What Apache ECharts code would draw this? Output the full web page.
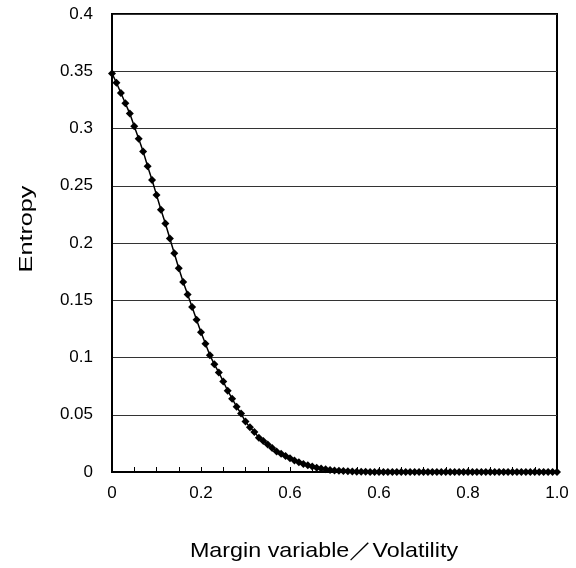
<!DOCTYPE html>
<html>
<head>
<meta charset="utf-8">
<script src="https://cdn.jsdelivr.net/npm/echarts@6/dist/echarts.min.js"></script>
<style>
  html, body { margin: 0; padding: 0; background: #fff; }
  #chart { width: 576px; height: 568px; }
</style>
</head>
<body>
<div id="chart"></div>
<script>
// Entropy sampled at margin/volatility steps of 0.01 from 0 to 1.0
const entropy = [
  0.348, 0.340, 0.331, 0.322, 0.313, 0.302, 0.291, 0.280, 0.267, 0.255,
  0.242, 0.229, 0.217, 0.204, 0.191, 0.178, 0.166, 0.155, 0.144, 0.133,
  0.122, 0.112, 0.102, 0.094, 0.087, 0.079, 0.071, 0.064, 0.057, 0.051,
  0.044, 0.039, 0.035, 0.030, 0.027, 0.024, 0.021, 0.018, 0.016, 0.014,
  0.012, 0.010, 0.0085, 0.007, 0.0058, 0.0047, 0.0038, 0.003, 0.0024, 0.0018,
  0.0014, 0.001, 0.0008, 0.0006, 0.0004, 0.0003, 0.0002, 0.0002, 0.0001, 0.0001,
  0, 0, 0, 0, 0, 0, 0, 0, 0, 0,
  0, 0, 0, 0, 0, 0, 0, 0, 0, 0,
  0, 0, 0, 0, 0, 0, 0, 0, 0, 0,
  0, 0, 0, 0, 0, 0, 0, 0, 0, 0,
  0
];
const xStep = 0.01;

// Labels printed under every fourth tick of the x axis
const xTickLabels = ['0', '0.2', '0.6', '0.6', '0.8', '1.0'];

const xTitle = 'Margin variable\uFF0FVolatility';
const yTitle = 'Entropy';

const points = entropy.map((v, i) => [i * xStep, v]);

const font = '"Liberation Sans", Arial, sans-serif';
const chart = echarts.init(document.getElementById('chart'), null, { renderer: 'canvas' });

chart.setOption({
  backgroundColor: '#fff',
  animation: false,
  grid: {
    left: 112, right: 19, top: 14, bottom: 96,
    show: true, borderColor: '#000', borderWidth: 2
  },
  xAxis: {
    type: 'value',
    min: 0, max: 1, interval: 0.05,
    axisLine: { show: true, lineStyle: { color: '#000', width: 2 } },
    axisTick: { show: true, inside: true, length: 5, lineStyle: { color: '#000', width: 1 } },
    splitLine: { show: false },
    axisLabel: {
      margin: 13,
      fontFamily: font, fontSize: 17, color: '#000',
      formatter: function (val) {
        const k = Math.round(val / 0.05);
        if (k % 4 !== 0) return '';
        return xTickLabels[k / 4] || '';
      }
    }
  },
  yAxis: {
    type: 'value',
    min: 0, max: 0.4, interval: 0.05,
    axisLine: { show: true, lineStyle: { color: '#000', width: 2 } },
    axisTick: { show: false },
    splitLine: { show: true, lineStyle: { color: '#333', width: 1 } },
    axisLabel: { margin: 19, fontFamily: font, fontSize: 17, color: '#000' }
  },
  graphic: [{
    type: 'text',
    x: 324, y: 551,
    scaleX: 1.11,
    style: {
      text: xTitle,
      fontFamily: font, fontSize: 21, fill: '#000',
      textAlign: 'center', textVerticalAlign: 'middle'
    }
  }, {
    type: 'text',
    x: 27, y: 229,
    rotation: Math.PI / 2,
    scaleX: 1.4,
    style: {
      text: yTitle,
      fontFamily: font, fontSize: 18, fill: '#000',
      textAlign: 'center', textVerticalAlign: 'middle'
    }
  }],
  series: [{
    type: 'line',
    data: points,
    symbol: 'diamond',
    symbolSize: 8,
    showAllSymbol: true,
    lineStyle: { color: '#000', width: 1.5 },
    itemStyle: { color: '#000' },
    z: 5
  }]
});
</script>
</body>
</html>
